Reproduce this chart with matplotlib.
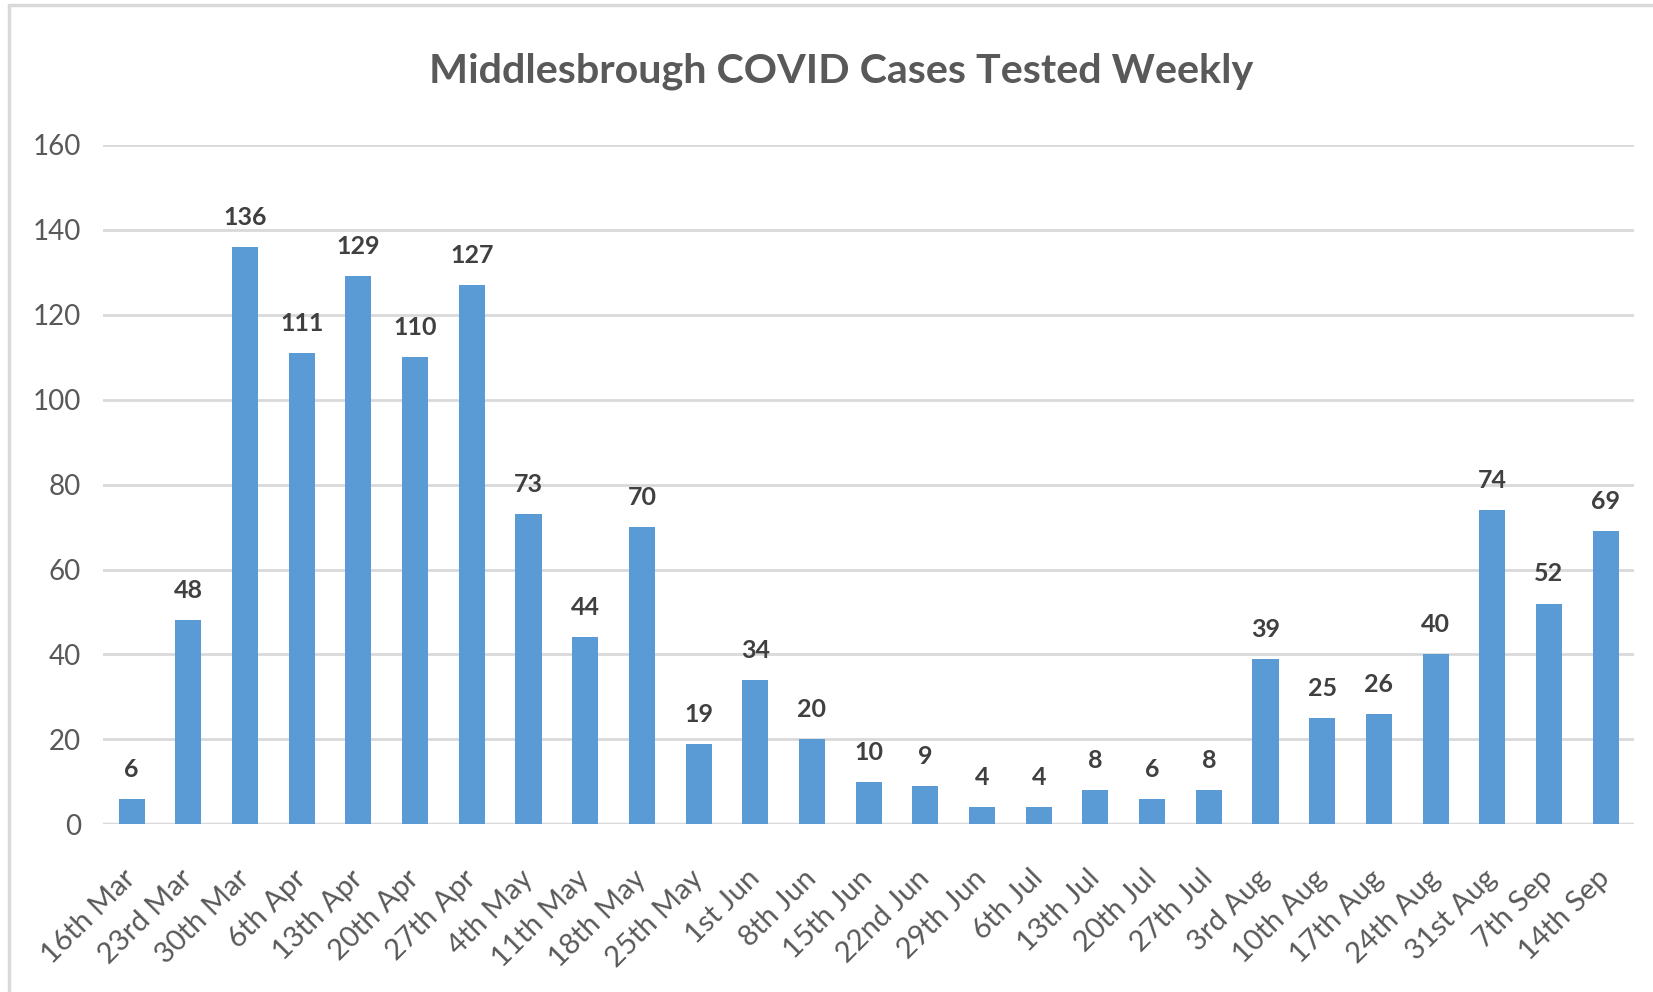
import matplotlib.pyplot as plt
from matplotlib.patches import Rectangle

weeks = ['16th Mar', '23rd Mar', '30th Mar', '6th Apr', '13th Apr', '20th Apr', '27th Apr',
         '4th May', '11th May', '18th May', '25th May', '1st Jun', '8th Jun', '15th Jun',
         '22nd Jun', '29th Jun', '6th Jul', '13th Jul', '20th Jul', '27th Jul', '3rd Aug',
         '10th Aug', '17th Aug', '24th Aug', '31st Aug', '7th Sep', '14th Sep']
cases = [6, 48, 136, 111, 129, 110, 127, 73, 44, 70, 19, 34, 20, 10, 9, 4, 4, 8, 6, 8,
         39, 25, 26, 40, 74, 52, 69]
yticks = [0, 20, 40, 60, 80, 100, 120, 140, 160]

plt.rcParams['font.family'] = ['Lato', 'DejaVu Sans']

fig = plt.figure(figsize=(16.53, 9.92), dpi=100)
ax = fig.add_axes([0.0625, 0.169, 0.926, 0.685])

# light frame round the chart area
fig.patches.append(Rectangle((9 / 1653, -0.1), 1.2, 1 - 5 / 992 + 0.1, transform=fig.transFigure,
                             fill=False, edgecolor='#d9d9d9', linewidth=2.5))

x = range(len(weeks))
bars = ax.bar(x, cases, width=0.46, color='#5b9bd5', zorder=3)
ax.bar_label(bars, padding=13, fontsize=18, fontweight='bold', color='#404040')

ax.set_xlim(-0.5, len(weeks) - 0.5)
ax.set_ylim(0, 160)
ax.set_yticks(yticks)
ax.yaxis.grid(True, color='#d9d9d9', linewidth=2, zorder=0)
for s in ax.spines.values():
    s.set_visible(False)
ax.axhline(0, color='#d9d9d9', linewidth=2.5, zorder=2)

ax.tick_params(axis='y', length=0, pad=16, labelsize=20, labelcolor='#595959')
ax.tick_params(axis='x', length=0, pad=36, labelsize=21, labelcolor='#595959')
ax.set_xticks(list(x))
ax.set_xticklabels(weeks, rotation=45, ha='right', va='center', rotation_mode='anchor')

fig.text(0.509, 0.928, 'Middlesbrough COVID Cases Tested Weekly', ha='center', va='center',
         fontsize=29.7, fontweight='bold', color='#595959')

fig.savefig('out.png', dpi=100)
